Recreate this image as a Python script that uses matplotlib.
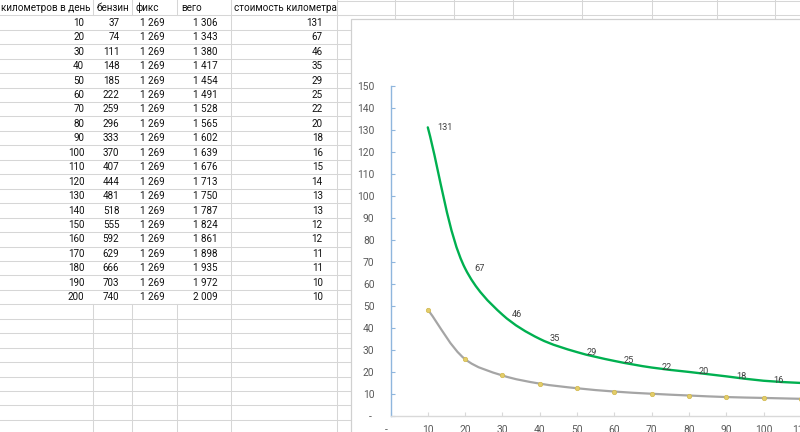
import matplotlib
matplotlib.use("Agg")
import matplotlib.pyplot as plt
import numpy as np
from matplotlib.patches import Rectangle
from matplotlib.path import Path
from matplotlib.patches import PathPatch

plt.rcParams['font.family'] = ['Roboto', 'DejaVu Sans']

# ---------------- data ----------------
headers = ["километров в день", "бензин", "фикс", "вего", "стоимость километра"]
km = [10, 20, 30, 40, 50, 60, 70, 80, 90, 100, 110, 120, 130, 140, 150, 160, 170, 180, 190, 200]
fuel = [37, 74, 111, 148, 185, 222, 259, 296, 333, 370, 407, 444, 481, 518, 555, 592, 629, 666, 703, 740]
fixed = ["1 269"] * 20
total = ["1 306", "1 343", "1 380", "1 417", "1 454", "1 491", "1 528", "1 565", "1 602", "1 639",
         "1 676", "1 713", "1 750", "1 787", "1 824", "1 861", "1 898", "1 935", "1 972", "2 009"]
cost_per_km = [131, 67, 46, 35, 29, 25, 22, 20, 18, 16, 15, 14, 13, 13, 12, 12, 11, 11, 10, 10]

gray_x = [10, 20, 30, 40, 50, 60, 70, 80, 90, 100, 110, 120]
gray_y = [48.3, 25.8, 18.4, 14.7, 12.6, 11.1, 10.1, 9.3, 8.6, 8.2, 7.8, 7.4]

label_count = 11  # data labels shown on green series

y_ticks = list(range(0, 151, 10))
x_ticks = list(range(0, 211, 10))

# ---------------- figure ----------------
fig = plt.figure(figsize=(8, 4.32), dpi=100)
bg = fig.add_axes([0, 0, 1, 1])
bg.set_xlim(0, 800)
bg.set_ylim(432, 0)
bg.axis('off')

grid_c = '#d6d6d6'
lw = 0.75
row0 = 15.3
rh = 14.45
nrows = 30
for k in range(nrows):
    y = row0 + rh * k
    if y > 432:
        break
    bg.plot([0, 351], [y, y], color=grid_c, lw=lw, zorder=1)
bg.plot([336.7, 800], [1.0, 1.0], color=grid_c, lw=lw, zorder=1)
bg.plot([336.7, 800], [15.0, 15.0], color=grid_c, lw=lw, zorder=1)

data_bottom = row0 + rh * 20
for x in [93.3, 132.3, 177.3]:
    bg.plot([x, x], [0, row0], color=grid_c, lw=lw, zorder=1)
    bg.plot([x, x], [data_bottom, 432], color=grid_c, lw=lw, zorder=1)
for x in [231.0, 336.7]:
    bg.plot([x, x], [0, 432], color=grid_c, lw=lw, zorder=1)
for x in [395.0, 454.3, 513.0, 582.3, 652.3, 716.7, 775.0]:
    bg.plot([x, x], [0, 20], color=grid_c, lw=lw, zorder=1)

fs = 7.1
hx = [1, 96.5, 135, 181, 234.3]
for h, x in zip(headers, hx):
    bg.text(x, 7.6, h, ha='left', va='center', fontsize=fs, color='#111111', zorder=3)
rx = [84.3, 119.3, 164.3, 217.3, 322.7]
for i in range(20):
    yc = row0 + rh * i + 7.4
    vals = [str(km[i]), str(fuel[i]), fixed[i], total[i], str(cost_per_km[i])]
    for v, x in zip(vals, rx):
        bg.text(x, yc, v, ha='right', va='center', fontsize=fs, color='#111111', zorder=3)

bg.add_patch(Rectangle((350.7, 18.7), 600, 600, facecolor='white', edgecolor='#d0d0d0', lw=0.9, zorder=5))

# ---------------- chart axes ----------------
y0_px = 416.0
y150_px = 85.5
x0_px = 390.5
px10 = 37.3
ax = fig.add_axes([x0_px / 800, (432 - y0_px) / 432, px10 * 21 / 800, (y0_px - y150_px) / 432])
ax.set_zorder(10)
ax.patch.set_alpha(0)
ax.set_xlim(0, 210)
ax.set_ylim(0, 150)

sx = px10 / 10.0
sy = (y0_px - y150_px) / 150.0


def smooth_path(xs, ys):
    # centripetal Catmull-Rom computed in pixel space, returned in data space
    pts = np.column_stack([np.asarray(xs, float) * sx, np.asarray(ys, float) * sy])
    n = len(pts)
    ext = np.vstack([2 * pts[0] - pts[1], pts, 2 * pts[-1] - pts[-2]])
    verts = [pts[0]]
    codes = [Path.MOVETO]
    for i in range(n - 1):
        p0, p1, p2, p3 = ext[i], ext[i + 1], ext[i + 2], ext[i + 3]
        l1 = np.linalg.norm(p1 - p0)
        l2 = np.linalg.norm(p2 - p1)
        l3 = np.linalg.norm(p3 - p2)
        d1, d2, d3 = np.sqrt(l1), np.sqrt(l2), np.sqrt(l3)
        b1 = (l1 * p2 - l2 * p0 + (2 * l1 + 3 * d1 * d2 + l2) * p1) / (3 * d1 * (d1 + d2))
        b2 = (l3 * p1 - l2 * p3 + (2 * l3 + 3 * d3 * d2 + l2) * p2) / (3 * d3 * (d3 + d2))
        verts += [b1, b2, p2]
        codes += [Path.CURVE4] * 3
    verts = np.array(verts)
    verts[:, 0] /= sx
    verts[:, 1] /= sy
    return Path(verts, codes)


ax.add_patch(PathPatch(smooth_path(gray_x, gray_y), facecolor='none', edgecolor='#a5a5a5', lw=1.6, zorder=3, capstyle='round'))
ax.scatter(gray_x, gray_y, s=10, color='#e3cd6a', edgecolors='#d1b84c', linewidths=0.5, zorder=4)
ax.add_patch(PathPatch(smooth_path(km, cost_per_km), facecolor='none', edgecolor='#00b050', lw=1.7, zorder=3, capstyle='round'))

for xv, yv in zip(km[:label_count], cost_per_km[:label_count]):
    ax.annotate(str(yv), (xv, yv), xytext=(7, 0), textcoords='offset points',
                ha='left', va='center', fontsize=6.6, color='#404040', zorder=6)

for s in ['top', 'right']:
    ax.spines[s].set_visible(False)
ax.spines['left'].set_color('#8fb6dd')
ax.spines['left'].set_linewidth(1.0)
ax.spines['bottom'].set_color('#d9d9d9')
ax.spines['bottom'].set_linewidth(1.0)

ax.set_yticks(y_ticks)
ax.set_yticklabels(['- ' if v == 0 else str(v) for v in y_ticks])
ax.set_xticks(x_ticks)
ax.set_xticklabels(['-   ' if v == 0 else str(v) for v in x_ticks])
ax.tick_params(axis='y', direction='in', length=3, width=0.8, color='#8fb6dd', labelsize=7.4, labelcolor='#595959', pad=11.5)
ax.tick_params(axis='x', direction='in', length=3, width=0.8, color='#d9d9d9', labelsize=7.4, labelcolor='#595959', pad=6.8)

fig.savefig('out.png', dpi=100)
